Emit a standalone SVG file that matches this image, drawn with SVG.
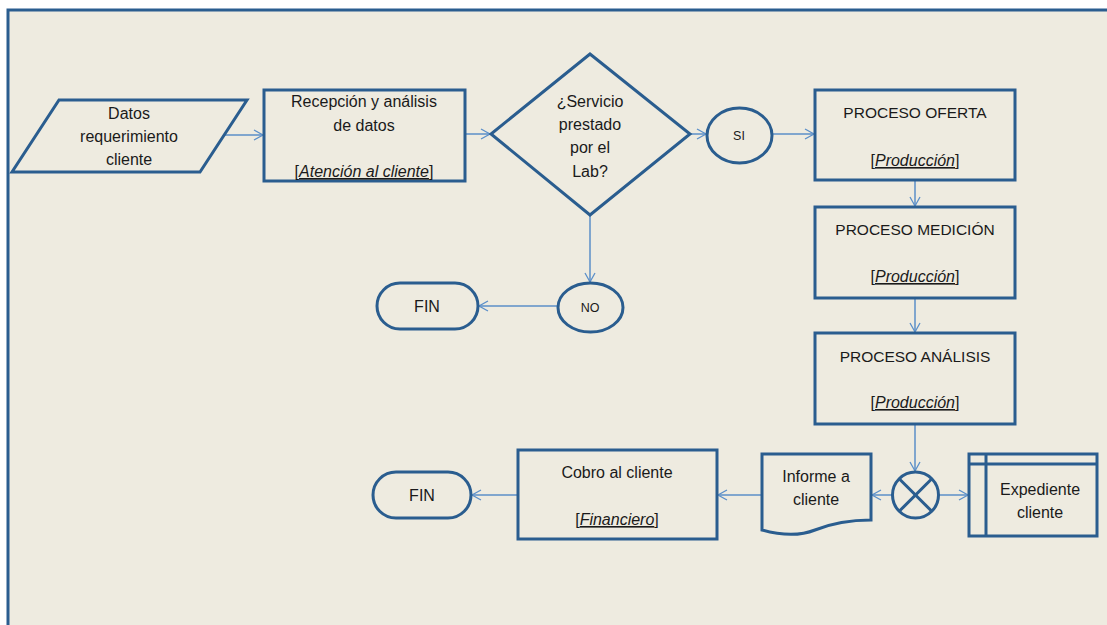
<svg xmlns="http://www.w3.org/2000/svg" width="1107" height="625" viewBox="0 0 1107 625">
<defs>
<marker id="arr" markerWidth="12" markerHeight="12" refX="10" refY="6" orient="auto" markerUnits="userSpaceOnUse">
<path d="M1,1 L10,6 L1,11" fill="none" stroke="#5B8FC9" stroke-width="1.3"/>
</marker>
<style>
.s{fill:none;stroke:#2A5D8F;stroke-width:3;stroke-linejoin:miter}
.c{fill:none;stroke:#5B8FC9;stroke-width:1.5;marker-end:url(#arr)}
text{font-family:"Liberation Sans",Arial,sans-serif;font-size:16px;fill:#1a1a1a;text-anchor:middle}
.sm{font-size:12.5px}
.cap{font-size:15.5px}
.it{font-style:italic;text-decoration:underline}
</style>
</defs>
<rect x="0" y="0" width="1107" height="625" fill="#FFFFFF"/>
<rect x="8" y="10" width="1110" height="630" fill="#EEEBE0" stroke="#2A5D8F" stroke-width="3"/>

<g id="connectors">
<line class="c" x1="224" y1="135" x2="263" y2="135"/>
<line class="c" x1="466" y1="134" x2="490" y2="134"/>
<line class="c" x1="690" y1="134" x2="706" y2="134"/>
<line class="c" x1="772" y1="134" x2="814" y2="134"/>
<line class="c" x1="590" y1="215" x2="590" y2="282"/>
<line class="c" x1="558" y1="306" x2="479" y2="306"/>
<line class="c" x1="915" y1="180" x2="915" y2="206"/>
<line class="c" x1="915" y1="298" x2="915" y2="332"/>
<line class="c" x1="915" y1="424" x2="915" y2="471"/>
<line class="c" x1="892" y1="495" x2="872" y2="495"/>
<line class="c" x1="939" y1="495" x2="968" y2="495"/>
<line class="c" x1="762" y1="495" x2="718" y2="495"/>
<line class="c" x1="518" y1="495" x2="472" y2="495"/>
</g>

<g id="datos">
<polygon class="s" points="59,100 247,100 200,172 12,172"/>
<text x="129" y="119">Datos</text>
<text x="129" y="142">requerimiento</text>
<text x="129" y="165">cliente</text>
</g>

<g id="recepcion">
<rect class="s" x="264" y="90" width="201" height="91"/>
<text x="364" y="107">Recepción y análisis</text>
<text x="364" y="131">de datos</text>
<text x="364" y="177">[<tspan class="it">Atención al cliente</tspan>]</text>
</g>

<g id="decision">
<polygon class="s" points="590,54 690,134 590,215 491,134"/>
<text x="590" y="107">¿Servicio</text>
<text x="590" y="130">prestado</text>
<text x="590" y="153">por el</text>
<text x="590" y="177">Lab?</text>
</g>

<g id="si">
<ellipse class="s" cx="739.5" cy="135.5" rx="32.5" ry="27.5"/>
<text class="sm" x="739" y="140">SI</text>
</g>

<g id="no">
<ellipse class="s" cx="590.5" cy="307.5" rx="32.5" ry="24.5"/>
<text class="sm" x="590" y="312">NO</text>
</g>

<g id="fin1">
<rect class="s" x="377" y="283" width="101" height="46" rx="23" ry="23"/>
<text x="427" y="312">FIN</text>
</g>

<g id="oferta">
<rect class="s" x="815" y="90" width="200" height="90"/>
<text class="cap" x="915" y="118">PROCESO OFERTA</text>
<text x="915" y="166">[<tspan class="it">Producción</tspan>]</text>
</g>

<g id="medicion">
<rect class="s" x="815" y="207" width="200" height="91"/>
<text class="cap" x="915" y="235">PROCESO MEDICIÓN</text>
<text x="915" y="282">[<tspan class="it">Producción</tspan>]</text>
</g>

<g id="analisis">
<rect class="s" x="815" y="333" width="200" height="91"/>
<text class="cap" x="915" y="362">PROCESO ANÁLISIS</text>
<text x="915" y="408">[<tspan class="it">Producción</tspan>]</text>
</g>

<g id="merge">
<circle class="s" cx="915.5" cy="495" r="23"/>
<line class="s" x1="899.2" y1="478.7" x2="931.8" y2="511.3"/>
<line class="s" x1="931.8" y1="478.7" x2="899.2" y2="511.3"/>
</g>

<g id="informe">
<path class="s" d="M762,454 L871,454 L871,520 C850,520 830,524 815,530 C800,536 780,535 762,530 Z"/>
<text x="816" y="482">Informe a</text>
<text x="816" y="505">cliente</text>
</g>

<g id="expediente">
<rect class="s" x="969" y="454" width="128" height="82"/>
<line class="s" x1="969" y1="464" x2="1097" y2="464"/>
<line class="s" x1="986" y1="454" x2="986" y2="536"/>
<text x="1040" y="495">Expediente</text>
<text x="1040" y="518">cliente</text>
</g>

<g id="cobro">
<rect class="s" x="518" y="450" width="199" height="89"/>
<text x="617" y="478">Cobro al cliente</text>
<text x="617" y="525">[<tspan class="it">Financiero</tspan>]</text>
</g>

<g id="fin2">
<rect class="s" x="373" y="472" width="98" height="46" rx="23" ry="23"/>
<text x="422" y="501">FIN</text>
</g>
</svg>
